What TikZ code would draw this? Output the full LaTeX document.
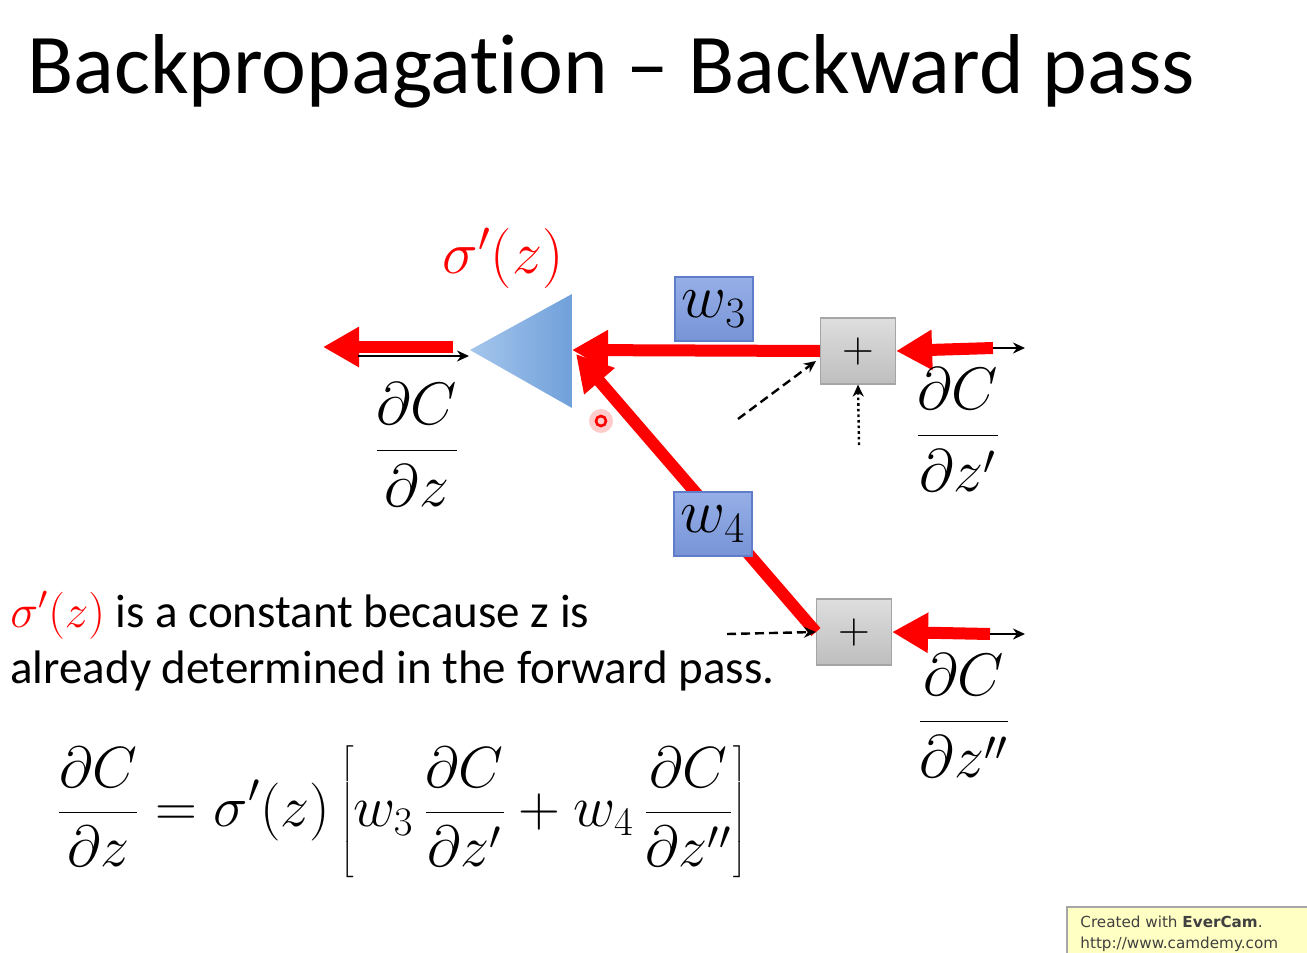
\RequirePackage{fix-cm}
\documentclass[tikz,border=0pt]{standalone}
\usepackage[no-math]{fontspec}
\setmainfont{Carlito}[Ligatures=NoCommon]
\newfontfamily\wmfont{DejaVu Sans}
\usetikzlibrary{arrows.meta}
\definecolor{myred}{RGB}{255,0,0}
\definecolor{tril}{RGB}{165,198,236}
\definecolor{trir}{RGB}{112,160,218}
\definecolor{wtop}{RGB}{150,175,232}
\definecolor{wbot}{RGB}{120,148,214}
\definecolor{wborder}{RGB}{95,125,200}
\definecolor{gtop}{RGB}{222,222,222}
\definecolor{gbot}{RGB}{190,190,190}
\definecolor{gborder}{RGB}{165,165,165}
\definecolor{wmfill}{RGB}{255,255,196}
\begin{document}
\begin{tikzpicture}[x=0.5pt,y=-0.5pt,
  redarrow/.style={draw=myred, line width=6pt, -{Triangle[length=18pt,width=19pt]}},
  thinarrow/.style={draw=black, line width=1.2pt, -{Stealth[length=6pt,width=5.5pt]}},
  dasharrow/.style={thinarrow, dash pattern=on 4.5pt off 2.5pt},
  dotarrow/.style={thinarrow, dash pattern=on 1.3pt off 1.5pt},
  wbox/.style={draw=wborder, line width=0.6pt, top color=wtop, bottom color=wbot, minimum width=39pt, minimum height=32pt, inner sep=0pt, font=\fontsize{31}{36}\selectfont},
  plusbox/.style={draw=gborder, line width=0.6pt, top color=gtop, bottom color=gbot, minimum width=37.5pt, minimum height=33pt, inner sep=0pt, font=\fontsize{22}{26}\selectfont},
  mathlab/.style={font=\fontsize{30}{36}\selectfont},
  bodytext/.style={anchor=base west, inner sep=0pt, font=\fontsize{23.5}{28}\selectfont}
]
\useasboundingbox (0,0) rectangle (1307,953);

% title
\node[anchor=base west, inner sep=0pt, font=\fontsize{42.5}{50}\selectfont] (title) at (27,93) {Backpropagation -- Backward pass};

% triangle (neuron)
\path[left color=tril, right color=trir] (470,350) coordinate (triL) -- (572,294) coordinate (triT) -- (572,408) coordinate (triB) -- cycle;
\coordinate (triR) at (572,350);

% boxes
\node[plusbox] (p1) at (858,351) {$+$};
\node[plusbox] (p2) at (854,632) {$+$};

% red backward arrows
\coordinate (lstart) at (453,347);
\coordinate (lend) at (323,347);
\draw[redarrow] (lstart) -- (lend);
\coordinate (bstart) at (358,356);
\coordinate (bend) at (469,356);
\draw[thinarrow] (bstart) -- (bend);

\draw[redarrow] (p1.west) -- (triR);
\draw[redarrow] (p2.west) -- (576,354);

\node[wbox] (w3) at (714,309) {$w_3$};
\node[wbox] (w4) at (713,524) {$w_4$};

\coordinate (r1) at (993,348);
\coordinate (k1) at (1025,348);
\draw[redarrow] (r1) -- (p1.east);
\draw[thinarrow] (r1) -- (k1);
\coordinate (r2) at (990,634);
\coordinate (k2) at (1025,634);
\draw[redarrow] (r2) -- (p2.east);
\draw[thinarrow] (r2) -- (k2);

% other inputs
\coordinate (d1) at (738,419);
\draw[dasharrow] (d1) -- (816,361);
\coordinate (d2) at (859,445);
\draw[dotarrow] (d2) -- (p1.south);
\coordinate (d3) at (727,634);
\draw[dasharrow] (d3) -- (p2.west);

% labels
\node[mathlab, red] (sig) at (503,258) {$\sigma'(z)$};
\node[mathlab] (dCdz) at (417,445) {$\displaystyle\frac{\partial C}{\partial z}$};
\node[mathlab] (dCdz1) at (958,430) {$\displaystyle\frac{\partial C}{\partial z'}$};
\node[mathlab] (dCdz2) at (964,716) {$\displaystyle\frac{\partial C}{\partial z''}$};

% cursor mark
\fill[myred!20] (601,421) circle (6pt);
\draw[myred, line width=1.3pt] (601,421) circle (2.5pt);

% text
\node[bodytext] (t1) at (10,627) {\textcolor{myred}{$\sigma'(z)$} is a constant because z is};
\node[bodytext] (t2) at (10,683) {already determined in the forward pass.};

% equation
\node[font=\fontsize{29}{35}\selectfont] (eq) at (402,812) {$\displaystyle\frac{\partial C}{\partial z} = \sigma'(z)\left[w_3\,\frac{\partial C}{\partial z'} + w_4\,\frac{\partial C}{\partial z''}\right]$};

% watermark
\draw[draw=gray!70, fill=wmfill, line width=0.6pt] (1067,907) rectangle (1312,958);
\node[anchor=base west, inner sep=0pt, text=black!75, font=\wmfont\fontsize{7.6}{9}\selectfont] (wm1) at (1080,927) {Created with \textbf{EverCam}.};
\node[anchor=base west, inner sep=0pt, text=black!75, font=\wmfont\fontsize{7.6}{9}\selectfont] (wm2) at (1080,948) {http://www.camdemy.com};
\end{tikzpicture}
\end{document}
